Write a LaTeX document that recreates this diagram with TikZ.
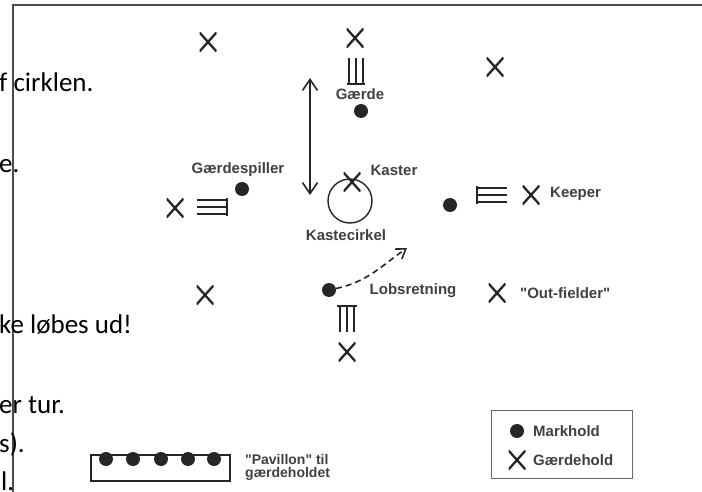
\documentclass[tikz,border=0pt]{standalone}
\usepackage{fontspec}
\setmainfont{Liberation Sans}[Ligatures=TeXOff]
\newfontfamily\sidefont{Carlito}
\usetikzlibrary{arrows.meta}

\begin{document}
\begin{tikzpicture}[x=1pt,y=-1pt,
    spiller/.style={fill=black!85,circle,inner sep=0pt,minimum size=14pt},
    kryds/.style={inner sep=0pt,minimum width=17pt,minimum height=19pt,
      path picture={\draw[line width=2.3pt,black!85]
        (path picture bounding box.north west) -- (path picture bounding box.south east)
        (path picture bounding box.south west) -- (path picture bounding box.north east);}},
    lbl/.style={font=\bfseries\fontsize{15}{15}\selectfont,text=black!75,inner sep=0pt},
    frag/.style={font=\sidefont\fontsize{27}{27}\selectfont,anchor=base west,inner sep=0pt},
    wicket/.style={line width=1.6pt,black!85},
    pil/.style={line width=1.6pt,black!85}]
    \useasboundingbox (0,0) rectangle (702,492);
    % ramme
    \draw[black!70,line width=1.8pt] (702,5) -- (13,5) -- (13,492);
    % tekst fra siden
    \node[frag] (t1) at (-1,92) {f cirklen.};
    \node[frag] (t2) at (-1,173) {e.};
    \node[frag] (t3) at (-1,333) {ke løbes ud!};
    \node[frag] (t4) at (-1,413) {er tur.};
    \node[frag] (t5) at (-1,452) {s).};
    \node[frag] (t6) at (1,490) {l.};
    % oeverst
    \node[kryds] (xa) at (208,42) {};
    \node[kryds] (xb) at (355,38) {};
    \node[kryds] (xc) at (495,67) {};
    \draw[wicket] (349,58) -- (349,84) (356,58) -- (356,84) (363,58) -- (363,84)
      (347,84) -- (365,84);
    \node[lbl] (gaerde) at (360,94) {Gærde};
    \node[spiller] (gmand) at (361,111) {};
    \coordinate (op) at (310,78);
    \coordinate (ned) at (310,195);
    \draw[pil,{Straight Barb[length=11pt,width=15pt]}-{Straight Barb[length=11pt,width=15pt]}] (op) -- (ned);
    % kaster
    \node[draw,circle,minimum size=44pt,line width=1.4pt,black!85] (cirkel) at (350,201) {};
    \node[kryds] (kaster) at (352,182) {};
    \node[lbl] (kasterlbl) at (394,170) {Kaster};
    \node[lbl] (cirkellbl) at (346,235) {Kastecirkel};
    % venstre
    \node[lbl] (gslbl) at (238,170) {Gærdespiller};
    \node[spiller] (gspiller) at (242,189) {};
    \node[kryds] (xv) at (175,208) {};
    \draw[wicket] (197,200) -- (227,200) (197,207) -- (227,207) (197,214) -- (227,214)
      (227,198) -- (227,216);
    % hoejre
    \node[spiller] (keeperdot) at (450,205) {};
    \draw[wicket] (477,188) -- (507,188) (477,195) -- (507,195) (477,202) -- (507,202)
      (477,186) -- (477,204);
    \node[kryds] (xk) at (531,195) {};
    \node[lbl,anchor=west] (keeper) at (550,194) {Keeper};
    % nederst
    \node[spiller] (loeber) at (329,290) {};
    \coordinate (maal) at (407,248);
    \draw[pil,dashed,dash pattern=on 6pt off 4pt,-{Straight Barb[length=9pt,width=12pt]}]
      (loeber) to[out=12,in=215] (maal);
    \node[lbl] (retning) at (413,291) {Lobsretning};
    \draw[wicket] (337,306) -- (357,306) (340,306) -- (340,332) (347,306) -- (347,332)
      (354,306) -- (354,332);
    \node[kryds] (xn) at (347,352) {};
    \node[kryds] (xnv) at (205,295) {};
    \node[kryds] (xo) at (497,293) {};
    \node[lbl,anchor=west] (outlbl) at (520,293) {"Out-fielder"};
    % pavillon
    \draw[line width=1.3pt,black!85] (91,455) rectangle (230,481);
    \foreach \px [count=\n] in {106,133,161,188,214}
      \node[spiller] (p\n) at (\px,459) {};
    \node[lbl,align=left,anchor=north west,font=\bfseries\fontsize{14}{13.5}\selectfont] (pavlbl) at (245,454) {"Pavillon" til\\gærdeholdet};
    % forklaring
    \draw[black!60,line width=1pt] (491,410) rectangle (632,478);
    \node[spiller] (ldot) at (517,431) {};
    \node[lbl,anchor=west] (mark) at (533,431) {Markhold};
    \node[kryds] (lx) at (517,460) {};
    \node[lbl,anchor=west] (gaerdehold) at (533,460) {Gærdehold};
\end{tikzpicture}
\end{document}
